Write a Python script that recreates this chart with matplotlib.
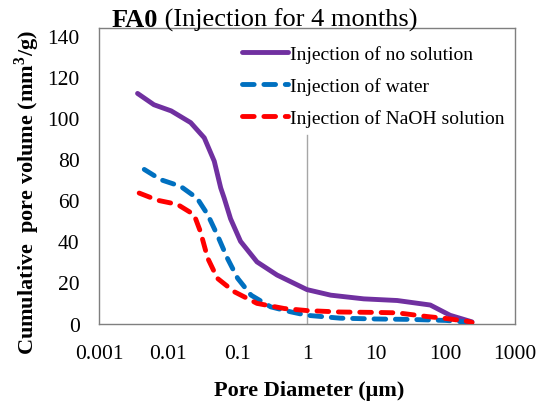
import matplotlib
matplotlib.use("Agg")
import matplotlib.pyplot as plt

plt.rcParams['font.family'] = ['Liberation Serif', 'DejaVu Serif']
plt.rcParams['mathtext.fontset'] = 'custom'
plt.rcParams['mathtext.rm'] = 'Liberation Serif'
plt.rcParams['mathtext.bf'] = 'Liberation Serif:bold'

title_bold = "FA0"
title_rest = " (Injection for 4 months)"
xlabel = "Pore Diameter (μm)"
ylabel = r"Cumulative  pore volume (mm$^\mathbf{3}$/g)"
series_labels = ["Injection of no solution", "Injection of water", "Injection of NaOH solution"]
series_colors = ["#7030A0", "#0070C0", "#FF0000"]

x_none = [0.0036, 0.0062, 0.011, 0.021, 0.033, 0.046, 0.057, 0.064, 0.079, 0.11, 0.19, 0.37, 1.0, 2.2, 6.6, 20, 60, 116, 240]
y_none = [112, 106.5, 103.5, 97.8, 90.4, 79, 66, 61, 51, 40, 30, 23.6, 16.5, 13.8, 12.0, 11.2, 9, 4, 0.8]

x_water = [0.0045, 0.0078, 0.015, 0.026, 0.037, 0.051, 0.071, 0.1, 0.156, 0.3, 0.58, 1.0, 3, 10, 30, 100, 240]
y_water = [75, 70, 66.8, 61, 53, 43, 31.8, 22, 13.8, 8.1, 5.7, 4, 2.6, 2.2, 2.0, 1.5, 0.5]

x_naoh = [0.0038, 0.007, 0.0135, 0.0235, 0.029, 0.037, 0.051, 0.089, 0.19, 0.47, 1.0, 3, 10, 20, 54, 104, 210, 240]
y_naoh = [63.5, 60, 58, 53, 44.8, 31.8, 22, 15.5, 9.8, 7.3, 6.3, 5.6, 5.4, 5.2, 3.4, 2.4, 1.0, 0.5]

x_ticks = [0.001, 0.01, 0.1, 1, 10, 100, 1000]
x_ticklabels = ["0.001", "0.01", "0.1", "1", "10", "100", "1000"]
y_ticks = [0, 20, 40, 60, 80, 100, 120, 140]

fig = plt.figure(figsize=(5.4, 4.06), dpi=100)
ax = fig.add_axes([0.1833, 0.2007, 0.7704, 0.7271])

ax.plot([1, 1], [0, 91.6], color="#A6A6A6", lw=1.0, zorder=1)

lw = 3.5
ax.plot(x_none, y_none, color=series_colors[0], lw=lw, solid_capstyle='round',
        solid_joinstyle='round', label=series_labels[0], zorder=3)
ax.plot(x_water, y_water, color=series_colors[1], lw=lw, dashes=(2.4, 2.0),
        dash_capstyle='round', dash_joinstyle='round', label=series_labels[1], zorder=3)
ax.plot(x_naoh, y_naoh, color=series_colors[2], lw=lw, dashes=(2.4, 2.0),
        dash_capstyle='round', dash_joinstyle='round', label=series_labels[2], zorder=4)

ax.set_xscale('log')
ax.set_xlim(0.001, 1000)
ax.set_ylim(0, 143.7)
ax.set_xticks(x_ticks)
ax.set_xticklabels(x_ticklabels)
ax.minorticks_off()
ax.set_yticks(y_ticks)
ax.tick_params(axis='both', length=0, labelsize=15.5, colors='black')
ax.tick_params(axis='x', pad=14.5)
ax.tick_params(axis='y', pad=14)
for s in ax.spines.values():
    s.set_color("#7F7F7F")
    s.set_linewidth(1.0)

ax.set_xlabel(xlabel, fontsize=16, fontweight='bold')
ax.xaxis.set_label_coords(0.505, -0.191)
ax.set_ylabel(ylabel, fontsize=16, fontweight='bold')
ax.yaxis.set_label_coords(-0.138, 0.447)

t1 = fig.text(0.2068, 0.9327, title_bold, fontsize=19, fontweight='bold',
              ha='left', va='baseline')
ax.annotate(title_rest, xy=(1, 0), xycoords=t1, fontsize=19, ha='left', va='bottom',
            annotation_clip=False)

leg = ax.legend(loc='upper left', bbox_to_anchor=(0.343, 0.9425), frameon=False,
                fontsize=14, handlelength=2.4, handletextpad=0.1, labelspacing=0.72,
                borderpad=0.0, borderaxespad=0.0)

fig.savefig("out.png", dpi=100)
